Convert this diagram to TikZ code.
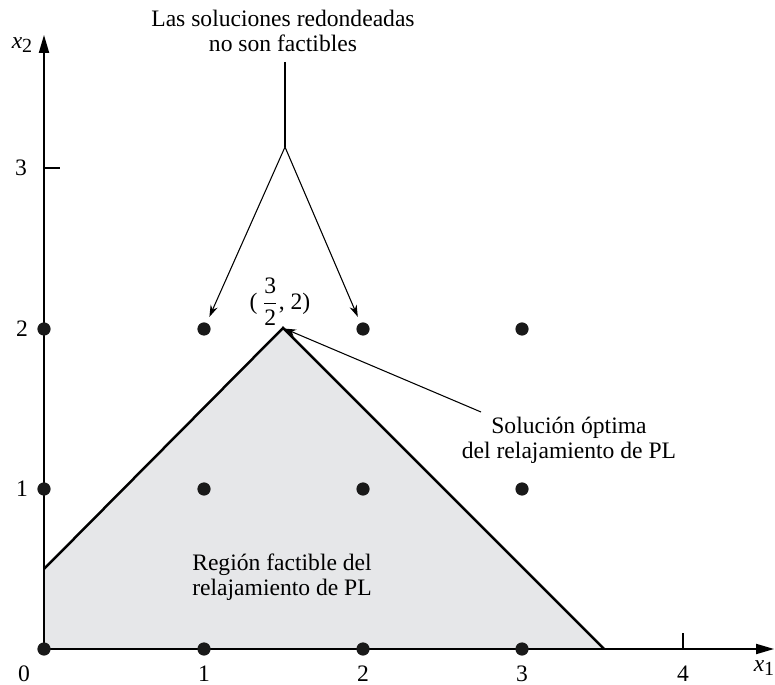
\documentclass[tikz,border=0pt]{standalone}
\usepackage{fontspec}
\setmainfont{Liberation Serif}
\usetikzlibrary{arrows.meta}
\newcommand{\mysub}[1]{\raisebox{-0.35ex}{\fontsize{8.5}{8.5}\selectfont #1}}
\begin{document}
\begin{tikzpicture}[x=0.424pt,y=-0.424pt,
  dot/.style={circle,fill=black!90,inner sep=0pt,minimum size=5.6pt},
  lbl/.style={font=\fontsize{10}{10.6}\selectfont,align=center,inner sep=0pt},
  axis/.style={line width=0.6pt,-{Triangle[length=7.6pt,width=4.3pt]}},
  edge/.style={line width=1.05pt,line join=miter},
  ptr/.style={line width=0.45pt,-{Stealth[length=5pt,width=3.2pt]}},
  region/.style={fill={rgb,255:red,230;green,231;blue,233}}]
\useasboundingbox (0,0) rectangle (775,685);
% feasible region
\coordinate (O) at (44,649);
\coordinate (A) at (44,569);
\coordinate (P) at (283,328);
\coordinate (B) at (604,649);
\fill[region] (O) -- (A) -- (P) -- (B) -- cycle;
\draw[edge] (A) -- (P) -- (B);
% axes
\coordinate (xend) at (774,649);
\coordinate (yend) at (44,35);
\draw[axis] (O) -- (xend);
\draw[axis] (O) -- (yend);
\coordinate (t3a) at (44,168);
\coordinate (t3b) at (60,168);
\coordinate (t4a) at (683,649);
\coordinate (t4b) at (683,633);
\draw[line width=0.5pt] (t3a) -- (t3b);
\draw[line width=0.5pt] (t4a) -- (t4b);
% axis labels
\node[lbl] (l0) at (24,674) {0};
\node[lbl] (lx1) at (204,674) {1};
\node[lbl] (lx2) at (363,674) {2};
\node[lbl] (lx3) at (522,674) {3};
\node[lbl] (lx4) at (683,674) {4};
\node[lbl] (ly1) at (22,489) {1};
\node[lbl] (ly2) at (22,329) {2};
\node[lbl] (ly3) at (21,168) {3};
\node[lbl] (xone) at (764,668) {\textit{x}\mysub{1}};
\node[lbl] (xtwo) at (22,45) {\textit{x}\mysub{2}};
% integer points
\foreach \i/\px in {0/44,1/204,2/363,3/522}{
  \foreach \j/\py in {0/649,1/489,2/329}{
    \node[dot] (d\i\j) at (\px,\py) {};
  }
}
% labels
\node[lbl] (top) at (283,31) {Las soluciones redondeadas\\no son factibles};
\node[lbl] (apex) at (280,302) {(\,$\displaystyle\frac{\mbox{3}}{\mbox{2}}$, 2)};
\node[lbl] (sol) at (569,440) {Solución óptima\\del relajamiento de PL};
\node[lbl] (reg) at (282,577) {Región factible del\\relajamiento de PL};
% connectors
\coordinate (topend) at (285,62);
\coordinate (J) at (285,147);
\draw[line width=0.45pt] (topend) -- (J);
\draw[ptr,shorten >=2.6pt] (J) -- (d12);
\draw[ptr,shorten >=2.6pt] (J) -- (d22);
\coordinate (solstart) at (481,412);
\draw[ptr,shorten >=0.6pt] (solstart) -- (P);
\end{tikzpicture}
\end{document}
